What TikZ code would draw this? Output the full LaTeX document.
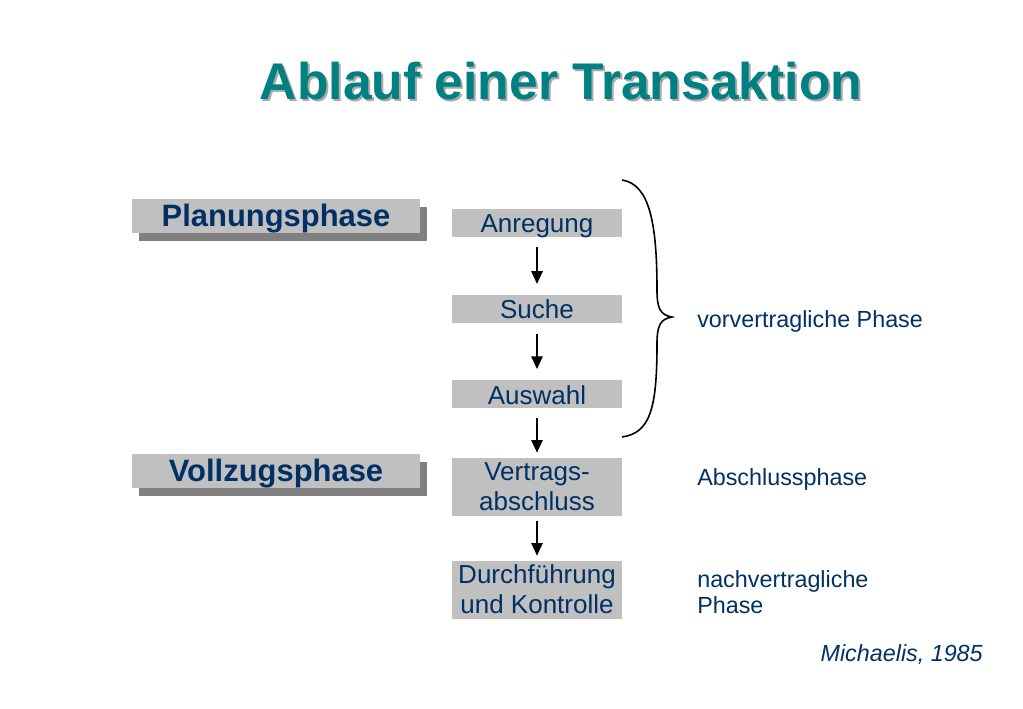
\documentclass[tikz,border=0pt]{standalone}
\usepackage{fontspec}
\setsansfont{Liberation Sans}
\usepackage{tikz}
\usetikzlibrary{arrows.meta,shadows}
\definecolor{boxgray}{RGB}{192,192,192}
\definecolor{shadegray}{RGB}{128,128,128}
\definecolor{textblue}{RGB}{0,48,100}
\definecolor{titleteal}{RGB}{0,128,128}
\definecolor{titleshade}{RGB}{170,170,170}
\tikzset{
  txtnode/.style = {inner sep=0pt, font=\sffamily, text=textblue},
  ph_box/.style = {txtnode, rectangle, fill=boxgray, minimum width=216pt,
    minimum height=25.5pt, text height=14.6pt, text depth=0pt,
    font=\sffamily\bfseries\fontsize{23.2pt}{27pt}\selectfont,
    drop shadow={shadow xshift=5.25pt, shadow yshift=-6pt,
      fill=shadegray, opacity=1}},% Planungs-/Vollzugsphase
  st_box/.style = {txtnode, rectangle, fill=boxgray, minimum width=127.5pt,
    minimum height=21pt, text height=15pt, text depth=0pt,
    font=\sffamily\fontsize{19.5pt}{22.5pt}\selectfont},% ein Schritt
  st_box2/.style = {st_box, minimum height=43.5pt, align=center,
    text height=34.5pt, text depth=0pt},% Schritt, zwei Zeilen
  side_txt/.style = {txtnode, anchor=base west, align=left,
    font=\sffamily\fontsize{17.5pt}{19.5pt}\selectfont},% Phase rechts
  title_txt/.style = {inner sep=0pt, anchor=base,
    font=\sffamily\bfseries\fontsize{38.7pt}{46pt}\selectfont},
  arr/.style = {-{Triangle[length=9.5pt,width=8.5pt]}, line width=1.2pt}
}

\begin{document}
\begin{tikzpicture}[x=0.75pt,y=-0.75pt]
\useasboundingbox (0,0) rectangle (1023,708);
% Titel
\node [title_txt, text=titleshade] (title_sh) at (563,101.3) {Ablauf einer Transaktion};
\node [title_txt, text=titleteal] (title) at (561,99.3) {Ablauf einer Transaktion};
% Phasen links
\node [ph_box] (plan) at (276,216.3) {Planungsphase};
\node [ph_box] (voll) at (276,471.3) {Vollzugsphase};
% Schritte
\node [st_box] (anr) at (537,222.5) {Anregung};
\node [st_box] (suc) at (537,308.8) {Suche};
\node [st_box] (ausw) at (537,394) {Auswahl};
\node [st_box2] (vertr) at (537,487) {Vertrags-\\abschluss};
\node [st_box2] (durch) at (537,590) {Durchführung\\und Kontrolle};
\foreach \a/\b/\s/\e in {anr/suc/8/8, suc/ausw/8/8, ausw/vertr/7.5/3.8, vertr/durch/3.8/3.8}
  \draw [arr, shorten <=\s pt, shorten >=\e pt] (\a) -- (\b);
% Klammer
\coordinate (br_top) at (622,180);
\coordinate (br_tip) at (672,317);
\coordinate (br_bot) at (622,437);
\draw [line width=1.2pt] (br_top) .. controls (650,184) and (657,225) .. (657,290)
  .. controls (657,308) and (660,315) .. (br_tip)
  .. controls (660,319) and (657,326) .. (657,344)
  .. controls (657,409) and (650,433) .. (br_bot);
% Texte rechts
\node [side_txt] (vorv) at (697,327) {vorvertragliche Phase};
\node [side_txt] (absch) at (697,485) {Abschlussphase};
\node [side_txt] (nachv) at (697,613) {nachvertragliche\\Phase};
\node [side_txt, anchor=base east, font=\sffamily\itshape\fontsize{17.5pt}{19.5pt}\selectfont] (mich) at (983,661) {Michaelis, 1985};
\end{tikzpicture}
\end{document}
